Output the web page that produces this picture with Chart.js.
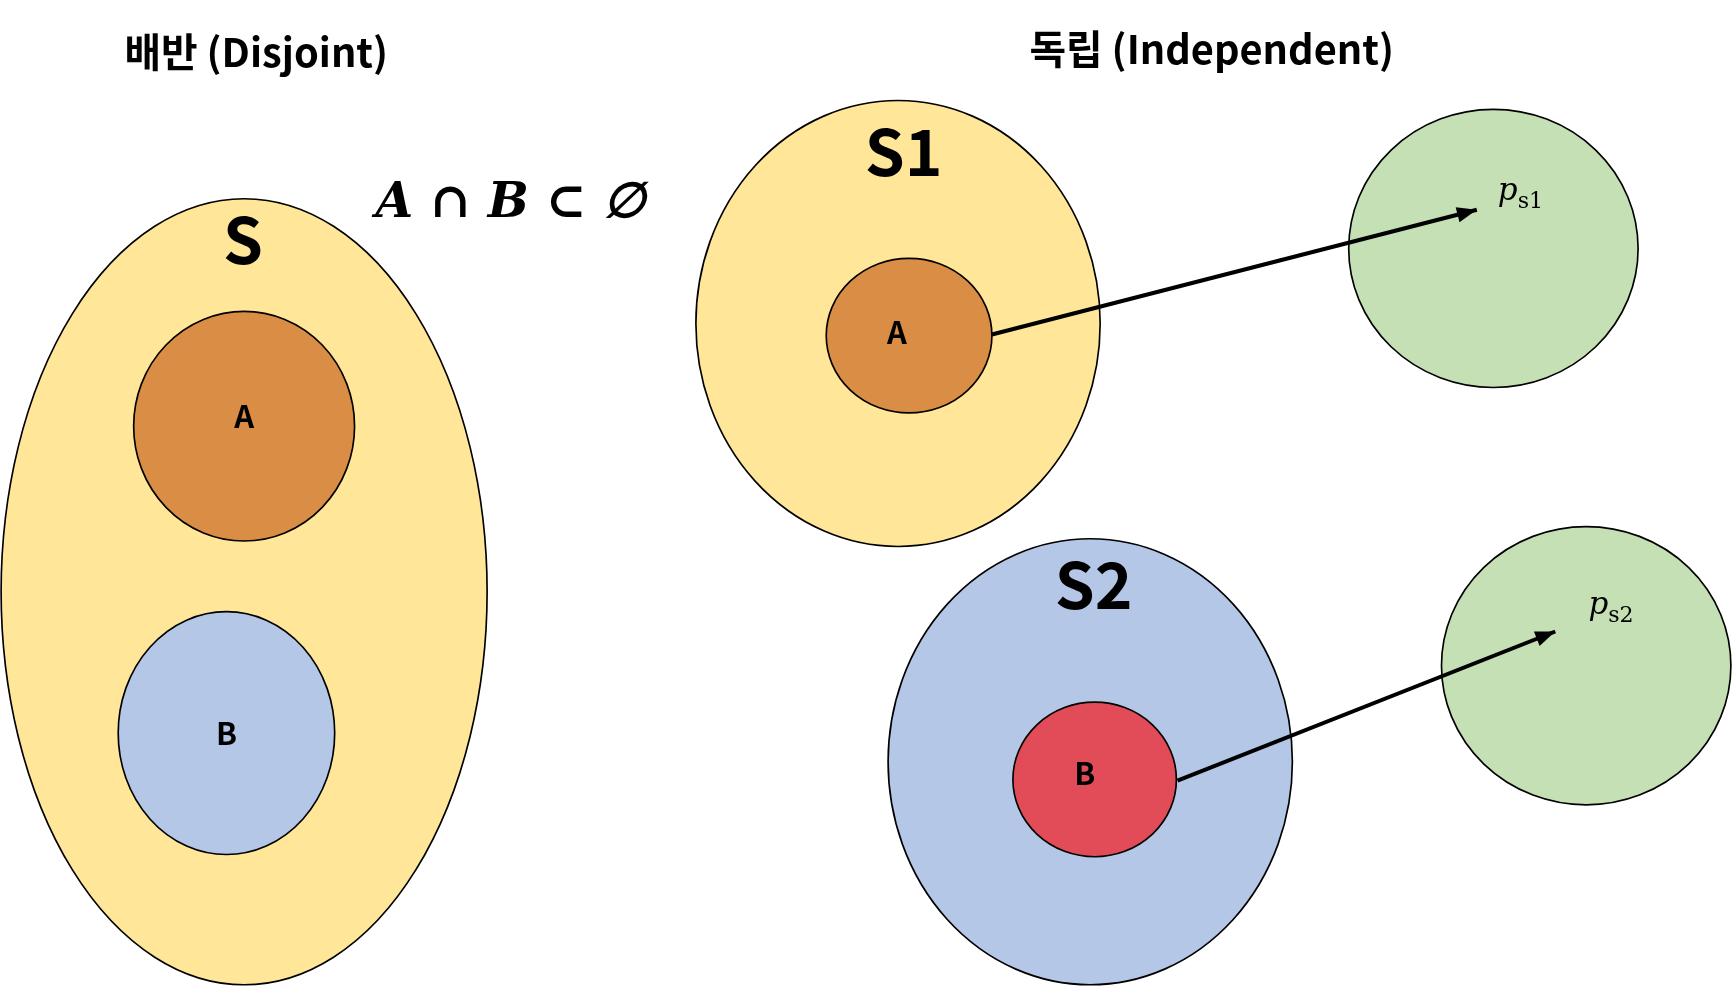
<!DOCTYPE html>
<html>
<head>
<meta charset="utf-8">
<script src="https://cdn.jsdelivr.net/npm/chart.js@4"></script>
<style>
  html, body { margin: 0; padding: 0; background: #fff; }
  #wrap { width: 1732px; height: 987px; }
</style>
</head>
<body>
<div id="wrap"><canvas id="diagram"></canvas></div>
<script>
// Shapes in picture units (1568 x 894 grid)
const shapeNames = ['S', 'A', 'B', 'S1', 'A1', 'S2', 'B2', 'P1', 'P2'];
const shapeX = [221, 221, 205, 813, 823, 987, 991, 1352, 1436];
const shapeY = [536, 386, 664, 293, 304, 690, 706, 225, 603];
const shapeRx = [220, 100, 98, 183, 75, 183, 74, 131, 131];
const shapeRy = [356, 104, 110, 202, 70, 202, 70, 126, 126];
const shapeFill = ['#FFE699', '#DA8D45', '#B4C7E7', '#FFE699', '#DA8D45', '#B4C7E7', '#E14C58', '#C5E0B4', '#C5E0B4'];

// Arrows: from small sets to probability circles
const arrowFrom = [[898, 303], [1066, 707]];
const arrowTo = [[1337, 190], [1408, 572]];

// Text labels
const labelText = ['배반 (Disjoint)', '독립 (Independent)', 'S', 'S1', 'S2', 'A', 'B', 'A', 'B'];
const labelX = [232, 1097, 220, 818, 990, 221, 205, 812, 982];
const labelY = [47, 44, 217, 137, 530, 377, 664, 301, 700];
const labelSize = [36, 36, 58, 58, 58, 28, 28, 28, 28];

const W = 1568, H = 894;

const shapePlugin = {
  id: 'shapes',
  beforeDatasetsDraw(chart) {
    const ctx = chart.ctx, xs = chart.scales.x, ys = chart.scales.y;
    const k = chart.width / W;
    ctx.save();
    shapeNames.forEach((n, i) => {
      const cx = xs.getPixelForValue(shapeX[i]);
      const cy = ys.getPixelForValue(shapeY[i]);
      const rx = Math.abs(xs.getPixelForValue(shapeX[i] + shapeRx[i]) - cx);
      const ry = Math.abs(ys.getPixelForValue(shapeY[i] + shapeRy[i]) - cy);
      ctx.beginPath();
      ctx.ellipse(cx, cy, rx, ry, 0, 0, Math.PI * 2);
      ctx.fillStyle = shapeFill[i];
      ctx.fill();
      ctx.lineWidth = 1.5 * k;
      ctx.strokeStyle = '#000';
      ctx.stroke();
    });
    ctx.restore();
  },
  afterDatasetsDraw(chart) {
    const ctx = chart.ctx, xs = chart.scales.x, ys = chart.scales.y;
    const k = chart.width / W;
    ctx.save();
    // arrowheads
    arrowTo.forEach((t, i) => {
      const f = arrowFrom[i];
      const x1 = xs.getPixelForValue(f[0]), y1 = ys.getPixelForValue(f[1]);
      const x2 = xs.getPixelForValue(t[0]), y2 = ys.getPixelForValue(t[1]);
      const a = Math.atan2(y2 - y1, x2 - x1), L = 18 * k, w = 7 * k;
      ctx.beginPath();
      ctx.moveTo(x2, y2);
      ctx.lineTo(x2 - L * Math.cos(a) + w * Math.sin(a), y2 - L * Math.sin(a) - w * Math.cos(a));
      ctx.lineTo(x2 - L * Math.cos(a) - w * Math.sin(a), y2 - L * Math.sin(a) + w * Math.cos(a));
      ctx.closePath();
      ctx.fillStyle = '#000';
      ctx.fill();
    });
    ctx.fillStyle = '#000';
    ctx.textAlign = 'center';
    ctx.textBaseline = 'middle';
    labelText.forEach((t, i) => {
      ctx.font = 'bold ' + (labelSize[i] * k) + 'px "Noto Sans CJK KR", "Open Sans", sans-serif';
      ctx.fillText(t, xs.getPixelForValue(labelX[i]), ys.getPixelForValue(labelY[i]));
    });
    // math
    ctx.font = 'italic bold ' + (44 * k) + 'px "DejaVu Serif", serif';
    ctx.fillText('A ∩ B ⊂ ∅', xs.getPixelForValue(462), ys.getPixelForValue(185));
    [[1368, 178, 's1'], [1450, 553, 's2']].forEach(p => {
      ctx.textAlign = 'left';
      ctx.font = 'italic ' + (28 * k) + 'px "DejaVu Serif", serif';
      const px = xs.getPixelForValue(p[0]), py = ys.getPixelForValue(p[1]);
      ctx.fillText('p', px - 12 * k, py - 4 * k);
      ctx.font = (20 * k) + 'px "DejaVu Serif", serif';
      ctx.fillText(p[2], px + 6 * k, py + 5 * k);
    });
    ctx.restore();
  }
};

new Chart(document.getElementById('diagram'), {
  type: 'scatter',
  data: {
    datasets: arrowFrom.map((f, i) => ({
      data: [{ x: f[0], y: f[1] }, { x: arrowTo[i][0], y: arrowTo[i][1] }],
      showLine: true,
      borderColor: '#000',
      borderWidth: 4,
      pointRadius: 0
    }))
  },
  options: {
    responsive: true,
    maintainAspectRatio: false,
    animation: false,
    layout: { padding: 0 },
    plugins: { legend: { display: false }, tooltip: { enabled: false } },
    scales: {
      x: { type: 'linear', min: 0, max: W, display: false },
      y: { type: 'linear', min: 0, max: H, reverse: true, display: false }
    }
  },
  plugins: [shapePlugin]
});
</script>
</body>
</html>
